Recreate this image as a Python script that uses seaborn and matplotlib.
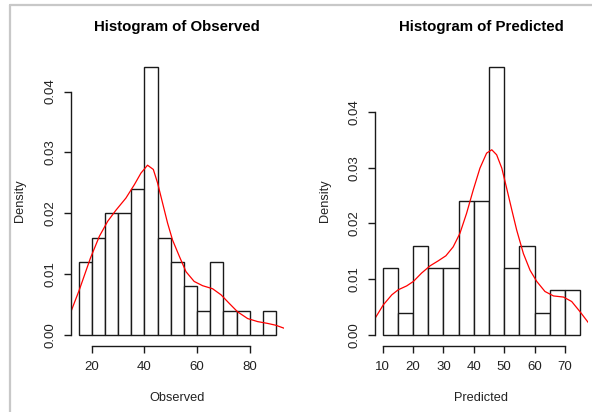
import numpy as np
import pandas as pd
import matplotlib
matplotlib.use("Agg")
import matplotlib.pyplot as plt
from matplotlib.lines import Line2D
import seaborn as sns

# ---- data ----
obs_edges = [15, 20, 25, 30, 35, 40, 45, 50, 55, 60, 65, 70, 75, 80, 85, 90]
obs_counts = [3, 4, 5, 5, 6, 11, 4, 3, 2, 1, 3, 1, 1, 0, 1]
pred_edges = [10, 15, 20, 25, 30, 35, 40, 45, 50, 55, 60, 65, 70, 75]
pred_counts = [3, 1, 4, 3, 3, 6, 6, 12, 3, 4, 1, 2, 2]

obs_kde_x = [11.8, 15.3, 19.5, 22.9, 26.1, 29.2, 33.0, 36.2, 38.7, 41.2, 43.4, 45.0,
             46.9, 48.8, 50.7, 53.3, 55.8, 58.9, 62.1, 65.9, 69.1, 72.2, 75.4, 79.2,
             83.0, 86.8, 89.9, 93.1]
obs_kde_y = [0.00346, 0.0074, 0.0126, 0.0162, 0.0187, 0.0205, 0.0225, 0.0247, 0.0266,
             0.0279, 0.0272, 0.0250, 0.0217, 0.0184, 0.0156, 0.0129, 0.0104, 0.0088,
             0.0081, 0.0076, 0.0066, 0.0052, 0.0038, 0.0027, 0.0022, 0.0019, 0.0016,
             0.0011]
pred_kde_x = [7.5, 10.2, 13.0, 15.1, 17.9, 20.1, 22.8, 25.6, 28.3, 30.8, 33.2, 35.4,
              37.6, 39.8, 42.0, 44.2, 45.9, 47.5, 49.2, 50.8, 52.5, 54.1, 56.3, 58.5,
              60.7, 63.4, 66.2, 69.5, 72.2, 74.9, 77.7]
pred_kde_y = [0.0030, 0.0054, 0.0072, 0.0081, 0.0088, 0.0096, 0.0111, 0.0124, 0.0133,
              0.0142, 0.0158, 0.0182, 0.0218, 0.0260, 0.0299, 0.0326, 0.0332, 0.0323,
              0.0299, 0.0263, 0.0224, 0.0188, 0.0146, 0.0116, 0.0096, 0.0078, 0.0070,
              0.0068, 0.0060, 0.0042, 0.0022]

titles = ["Histogram of Observed", "Histogram of Predicted"]
xlabels = ["Observed", "Predicted"]
xticks_list = [[20, 40, 60, 80], [10, 20, 30, 40, 50, 60, 70]]
yticks = [0.00, 0.01, 0.02, 0.03, 0.04]

sns.set_style("white")
plt.rcParams["font.family"] = ["Liberation Sans", "DejaVu Sans"]

fig = plt.figure(figsize=(5.92, 4.12), dpi=100)
fig.patch.set_facecolor("white")

W, H = 592, 412
panels = [
    dict(edges=obs_edges, counts=obs_counts, kx=obs_kde_x, ky=obs_kde_y,
         px=(70.6, 284.0), xlim=(12.0, 93.0), ylim=(-0.00176, 0.04576), ylab_x=20),
    dict(edges=pred_edges, counts=pred_counts, kx=pred_kde_x, ky=pred_kde_y,
         px=(374.8, 588.1), xlim=(7.4, 77.6), ylim=(-0.00192, 0.04992), ylab_x=325),
]
ytop, ybot = 56.5, 345.7
txt = "#222222"

for i, p in enumerate(panels):
    x0, x1 = p["px"]
    ax = fig.add_axes([x0 / W, 1 - ybot / H, (x1 - x0) / W, (ybot - ytop) / H])
    ax.set_facecolor("none")
    edges = p["edges"]
    mids = [(edges[j] + edges[j + 1]) / 2 for j in range(len(edges) - 1)]
    df = pd.DataFrame({"x": mids, "w": p["counts"]})
    sns.histplot(data=df, x="x", weights="w", bins=edges, stat="density",
                 color="white", edgecolor="#1a1a1a", linewidth=1.0, alpha=1.0, ax=ax)
    kd = pd.DataFrame({"x": p["kx"], "y": p["ky"]})
    sns.lineplot(data=kd, x="x", y="y", color="red", linewidth=0.9, ax=ax,
                 sort=False, estimator=None)
    ax.set_xlim(*p["xlim"])
    ax.set_ylim(*p["ylim"])
    for s in ["top", "right"]:
        ax.spines[s].set_visible(False)
    ax.spines["left"].set_bounds(0, 0.04)
    ax.spines["bottom"].set_bounds(xticks_list[i][0], xticks_list[i][-1])
    for s in ["left", "bottom"]:
        ax.spines[s].set_color("#1a1a1a")
        ax.spines[s].set_linewidth(1.0)
    ax.set_xticks(xticks_list[i])
    ax.set_xticklabels([str(t) for t in xticks_list[i]])
    ax.set_yticks(yticks)
    ax.set_yticklabels(["%.2f" % t for t in yticks], rotation=90, va="center")
    ax.tick_params(axis="both", direction="out", length=5.2, width=1.0,
                   color="#1a1a1a", labelsize=9.5, labelcolor=txt,
                   bottom=True, left=True)
    ax.tick_params(axis="x", pad=6)
    ax.tick_params(axis="y", pad=5)
    ax.set_xlabel(xlabels[i], fontsize=9.2, color=txt)
    ax.set_ylabel("Density", fontsize=9.2, color=txt)
    ax.xaxis.set_label_coords(0.5, -(398 - ybot) / (ybot - ytop))
    ax.xaxis.label.set_va("center")
    ax.yaxis.set_label_coords((p["ylab_x"] - x0) / (x1 - x0), 0.5)
    ax.yaxis.label.set_va("center")
    ax.set_title(titles[i], fontsize=10.8, fontweight="bold", color="black",
                 y=(ybot - 27) / (ybot - ytop), va="center", pad=0)

# screenshot frame lines
fig.add_artist(Line2D([10 / W, 10 / W], [0, 1 - 5 / H], color="#c8c8c8", linewidth=1.6,
                      transform=fig.transFigure))
fig.add_artist(Line2D([10 / W, 1], [1 - 5 / H, 1 - 5 / H], color="#c8c8c8", linewidth=1.6,
                      transform=fig.transFigure))

fig.savefig("out.png", dpi=100)
